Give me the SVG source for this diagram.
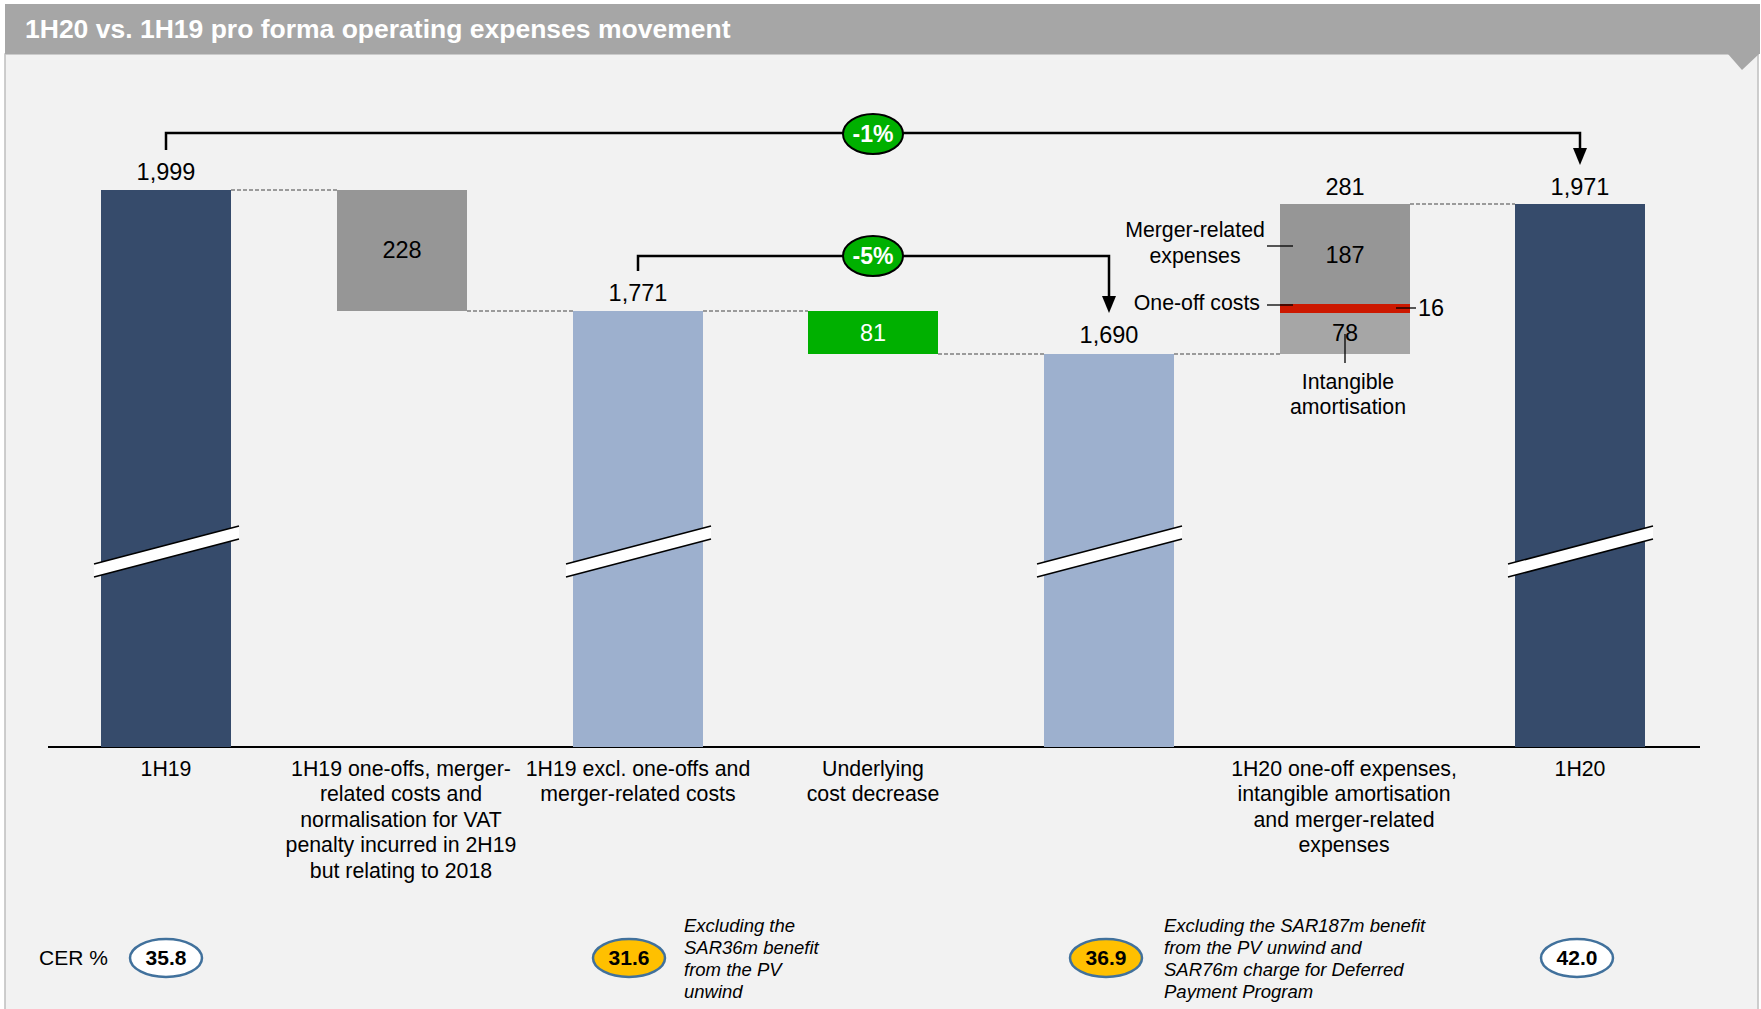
<svg xmlns="http://www.w3.org/2000/svg" width="1761" height="1009" viewBox="0 0 1761 1009">
<defs>
<style>
.t{font-family:"Liberation Sans",Arial,sans-serif;fill:#000}
.num{font-size:23.5px;text-anchor:middle}
.lbl{font-size:21.3px;text-anchor:middle}
.note{font-size:18.5px;font-style:italic}
.pct{font-size:23px;font-weight:bold;fill:#fff;text-anchor:middle}
.cer{font-size:21px;font-weight:bold;text-anchor:middle}
.navy{fill:#364b6b}
.lblue{fill:#9db0ce}
.gray{fill:#969696}
.dash{stroke:#7f7f7f;stroke-width:1.5;stroke-dasharray:4,2;fill:none}
.brk{fill:#fff}
.brkl{stroke:#000;stroke-width:1.6;fill:none}
.bracket{stroke:#000;stroke-width:2.5;fill:none}
.tick{stroke:#000;stroke-width:1.3;fill:none}
.pill{fill:#00b000;stroke:#000;stroke-width:2}
.cerw{fill:#fff;stroke:#41719c;stroke-width:2.5}
.cery{fill:#ffc000;stroke:#41719c;stroke-width:2.5}
</style>
<marker id="arr" markerUnits="userSpaceOnUse" markerWidth="17" markerHeight="14" refX="0" refY="7" orient="auto">
<path d="M0,0 L17,7 L0,14 z" fill="#000"/>
</marker>
</defs>
<rect x="0" y="0" width="1761" height="1009" fill="#ffffff"/>
<rect x="5" y="54" width="1753" height="960" fill="#f2f2f2" stroke="#bfbfbf" stroke-width="1.5"/>
<g id="title">
<rect x="5" y="4" width="1755" height="50" fill="#a6a6a6"/>
<polygon points="1728,54 1759,54 1742,70" fill="#a6a6a6"/>
<text class="t" x="25" y="38" font-size="26.5" font-weight="bold" style="fill:#fff">1H20 vs. 1H19 pro forma operating expenses movement</text>
</g>
<g id="connectors">
<line class="dash" x1="231" y1="190" x2="337" y2="190"/>
<line class="dash" x1="467" y1="311" x2="573" y2="311"/>
<line class="dash" x1="703" y1="311" x2="808" y2="311"/>
<line class="dash" x1="938" y1="354" x2="1044" y2="354"/>
<line class="dash" x1="1174" y1="354" x2="1280" y2="354"/>
<line class="dash" x1="1410" y1="204" x2="1515" y2="204"/>
<polyline class="bracket" points="166,150 166,133 1580,133 1580,148" marker-end="url(#arr)"/>
<polyline class="bracket" points="638,271 638,256 1109,256 1109,296" marker-end="url(#arr)"/>
<line x1="48" y1="747" x2="1700" y2="747" stroke="#000" stroke-width="2"/>
</g>
<g id="bar-1H19">
<rect class="navy" x="101" y="190" width="130" height="557"/>
<polygon class="brk" points="94,564 239,526 239,539 94,577"/>
<line class="brkl" x1="94" y1="564" x2="239" y2="526"/>
<line class="brkl" x1="94" y1="577" x2="239" y2="539"/>
<text class="t num" x="166" y="180">1,999</text>
<text class="t lbl" x="166" y="776">1H19</text>
</g>
<g id="bar-1H19-oneoffs">
<rect class="gray" x="337" y="190" width="130" height="121"/>
<text class="t num" x="402" y="258">228</text>
<text class="t lbl" x="401" y="776">1H19 one-offs, merger-</text>
<text class="t lbl" x="401" y="801">related costs and</text>
<text class="t lbl" x="401" y="827">normalisation for VAT</text>
<text class="t lbl" x="401" y="852">penalty incurred in 2H19</text>
<text class="t lbl" x="401" y="878">but relating to 2018</text>
</g>
<g id="bar-1H19-excl">
<rect class="lblue" x="573" y="311" width="130" height="436"/>
<polygon class="brk" points="566,564 711,526 711,539 566,577"/>
<line class="brkl" x1="566" y1="564" x2="711" y2="526"/>
<line class="brkl" x1="566" y1="577" x2="711" y2="539"/>
<text class="t num" x="638" y="301">1,771</text>
<text class="t lbl" x="638" y="776">1H19 excl. one-offs and</text>
<text class="t lbl" x="638" y="801">merger-related costs</text>
</g>
<g id="bar-underlying">
<rect x="808" y="311" width="130" height="43" fill="#00b000"/>
<text class="t num" x="873" y="341" style="fill:#fff">81</text>
<text class="t lbl" x="873" y="776">Underlying</text>
<text class="t lbl" x="873" y="801">cost decrease</text>
</g>
<g id="bar-1690">
<rect class="lblue" x="1044" y="354" width="130" height="393"/>
<polygon class="brk" points="1037,564 1182,526 1182,539 1037,577"/>
<line class="brkl" x1="1037" y1="564" x2="1182" y2="526"/>
<line class="brkl" x1="1037" y1="577" x2="1182" y2="539"/>
<text class="t num" x="1109" y="343">1,690</text>
</g>
<g id="bar-1H20-oneoffs">
<rect class="gray" x="1280" y="204" width="130" height="100"/>
<rect x="1280" y="304" width="130" height="9" fill="#cc1800"/>
<rect x="1280" y="313" width="130" height="41" fill="#a6a6a6"/>
<text class="t num" x="1345" y="195">281</text>
<text class="t num" x="1345" y="263">187</text>
<text class="t num" x="1345" y="341">78</text>
<line class="tick" x1="1267" y1="246" x2="1293" y2="246"/>
<line class="tick" x1="1267" y1="305" x2="1293" y2="305"/>
<line class="tick" x1="1396" y1="308" x2="1416" y2="308"/>
<line class="tick" x1="1345" y1="334" x2="1345" y2="363"/>
<text class="t lbl" x="1195" y="237">Merger-related</text>
<text class="t lbl" x="1195" y="263">expenses</text>
<text class="t" x="1260" y="310" font-size="21.3" text-anchor="end">One-off costs</text>
<text class="t num" x="1418" y="316" style="text-anchor:start">16</text>
<text class="t lbl" x="1348" y="389">Intangible</text>
<text class="t lbl" x="1348" y="414">amortisation</text>
<text class="t lbl" x="1344" y="776">1H20 one-off expenses,</text>
<text class="t lbl" x="1344" y="801">intangible amortisation</text>
<text class="t lbl" x="1344" y="827">and merger-related</text>
<text class="t lbl" x="1344" y="852">expenses</text>
</g>
<g id="bar-1H20">
<rect class="navy" x="1515" y="204" width="130" height="543"/>
<polygon class="brk" points="1508,564 1653,526 1653,539 1508,577"/>
<line class="brkl" x1="1508" y1="564" x2="1653" y2="526"/>
<line class="brkl" x1="1508" y1="577" x2="1653" y2="539"/>
<text class="t num" x="1580" y="195">1,971</text>
<text class="t lbl" x="1580" y="776">1H20</text>
</g>
<g id="pct-1">
<ellipse class="pill" cx="873" cy="134" rx="30" ry="20"/>
<text class="t pct" x="873" y="142" style="fill:#fff">-1%</text>
</g>
<g id="pct-5">
<ellipse class="pill" cx="873" cy="256" rx="30" ry="20"/>
<text class="t pct" x="873" y="264" style="fill:#fff">-5%</text>
</g>
<g id="cer">
<text class="t" x="39" y="965" font-size="21">CER %</text>
<ellipse class="cerw" cx="166" cy="958" rx="36" ry="19"/>
<text class="t cer" x="166" y="965">35.8</text>
<ellipse class="cery" cx="629" cy="958" rx="36" ry="19"/>
<text class="t cer" x="629" y="965">31.6</text>
<ellipse class="cery" cx="1106" cy="958" rx="36" ry="19"/>
<text class="t cer" x="1106" y="965">36.9</text>
<ellipse class="cerw" cx="1577" cy="958" rx="36" ry="19"/>
<text class="t cer" x="1577" y="965">42.0</text>
</g>
<g id="note-1">
<text class="t note" x="684" y="932">Excluding the</text>
<text class="t note" x="684" y="954">SAR36m benefit</text>
<text class="t note" x="684" y="976">from the PV</text>
<text class="t note" x="684" y="998">unwind</text>
</g>
<g id="note-2">
<text class="t note" x="1164" y="932">Excluding the SAR187m benefit</text>
<text class="t note" x="1164" y="954">from the PV unwind and</text>
<text class="t note" x="1164" y="976">SAR76m charge for Deferred</text>
<text class="t note" x="1164" y="998">Payment Program</text>
</g>
</svg>
